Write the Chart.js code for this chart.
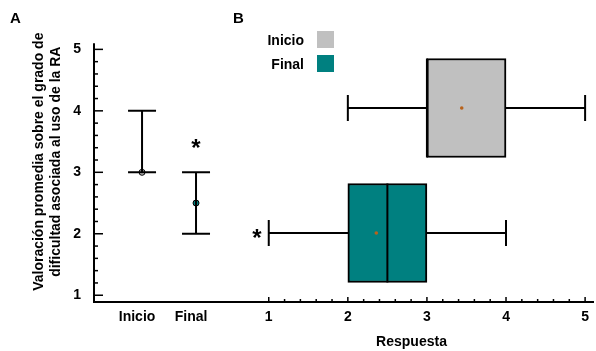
<!DOCTYPE html>
<html>
<head>
<meta charset="utf-8">
<script src="https://cdn.jsdelivr.net/npm/chart.js@4.4.0/dist/chart.umd.min.js"></script>
<style>
  html, body { margin: 0; padding: 0; background: #fff; }
  #wrap { position: relative; width: 596px; height: 351px; font-family: "Liberation Sans", Arial, sans-serif; font-weight: bold; color: #000; }
  canvas { position: absolute; top: 0; }
  #chartA { left: 0; }
  #chartB { left: 230px; }
  .tag { position: absolute; font-size: 15px; }
  .leg-text { position: absolute; right: 292px; font-size: 14px; line-height: 16px; }
  .leg-box { position: absolute; left: 317px; width: 17px; height: 17px; }
</style>
</head>
<body>
<div id="wrap">
  <canvas id="chartA" width="250" height="351"></canvas>
  <canvas id="chartB" width="366" height="351"></canvas>
  <div class="tag" style="left:10px;top:9px">A</div>
  <div class="tag" style="left:233px;top:9px">B</div>
  <div id="legend"></div>
</div>
<script>
const groups = ['Inicio', 'Final']
const groupColors = ['#c0c0c0', '#008080']

// panel A: mean with range
const meanScore = [3, 2.5]
const lowScore = [3, 2]
const highScore = [4, 3]
const starAbove = [null, 3.47]
const yTicks = [1, 2, 3, 4, 5]

// panel B: box plots
const boxMin = [2, 1]
const boxQ1 = [3, 2]
const boxMedian = [3, 2.5]
const boxQ3 = [4, 3]
const boxMax = [5, 4]
const boxMean = [3.44, 2.36]
const starLeft = [null, 0.85]
const xTicks = [1, 2, 3, 4, 5]

Chart.defaults.font.family = '"Liberation Sans", Arial, sans-serif'
Chart.defaults.font.weight = 'bold'
Chart.defaults.color = '#000'

// small inward ticks (major on whole numbers), plus the axis line when asked
const minorTicks = {
    id: 'minorTicks',
    afterDraw(chart, args, opts) {
        const scale = chart.scales[opts.axis]
        const area = chart.chartArea
        const ctx = chart.ctx
        ctx.save()
        ctx.strokeStyle = '#000'
        if (opts.lineTo !== undefined) {
            ctx.lineWidth = 2
            ctx.beginPath()
            ctx.moveTo(area.left, area.bottom)
            ctx.lineTo(area.left, scale.getPixelForValue(opts.lineTo))
            ctx.stroke()
        }
        ctx.lineWidth = 1.5
        for (let i = 0; i <= 20; i++) {
            const v = 1 + i * 0.2
            const len = i % 5 === 0 ? opts.major : opts.minor
            const p = scale.getPixelForValue(v)
            ctx.beginPath()
            if (scale.isHorizontal()) {
                ctx.moveTo(p, area.bottom)
                ctx.lineTo(p, area.bottom - len)
            } else {
                ctx.moveTo(area.left, p)
                ctx.lineTo(area.left + len, p)
            }
            ctx.stroke()
        }
        ctx.restore()
    }
}

const stars = {
    id: 'stars',
    afterDatasetsDraw(chart, args, opts) {
        const ctx = chart.ctx
        ctx.save()
        ctx.font = 'bold 24px "Liberation Sans", Arial, sans-serif'
        ctx.fillStyle = '#000'
        ctx.textAlign = 'center'
        ctx.textBaseline = 'alphabetic'
        const m = ctx.measureText('*')
        const shift = (m.actualBoundingBoxAscent - m.actualBoundingBoxDescent) / 2
        opts.items.forEach(s => {
            const x = chart.scales.x.getPixelForValue(s.x)
            const y = chart.scales.y.getPixelForValue(s.y)
            ctx.fillText('*', x, y + shift)
        })
        ctx.restore()
    }
}

const groupPos = groups.map((g, i) => i + 1)
const rowPos = groups.map((g, i) => groups.length - 1 - i)

new Chart(document.getElementById('chartA'), {
    type: 'scatter',
    data: {
        datasets: [
            ...groups.map((g, i) => ({
                showLine: true,
                data: [{ x: groupPos[i], y: lowScore[i] }, { x: groupPos[i], y: highScore[i] }],
                borderColor: '#000',
                borderWidth: 2,
                pointRadius: 0
            })),
            {
                data: groups.flatMap((g, i) => [{ x: groupPos[i], y: lowScore[i] }, { x: groupPos[i], y: highScore[i] }]),
                pointStyle: 'line',
                pointRadius: 14,
                pointBorderColor: '#000',
                pointBorderWidth: 2
            },
            {
                data: groups.map((g, i) => ({ x: groupPos[i], y: meanScore[i] })),
                pointStyle: 'circle',
                pointRadius: 3,
                pointBackgroundColor: groupColors,
                pointBorderColor: '#000',
                pointBorderWidth: 1
            }
        ]
    },
    options: {
        responsive: false,
        animation: false,
        events: [],
        layout: { autoPadding: false, padding: { left: 0, top: 18, right: 0, bottom: 0 } },
        scales: {
            x: {
                type: 'linear',
                min: 0.11,
                max: 3,
                afterBuildTicks: s => { s.ticks = groupPos.map(v => ({ value: v })) },
                afterFit: s => { s.height = 49 },
                ticks: { callback: v => groups[groupPos.indexOf(v)], font: { size: 14 }, padding: 7, labelOffset: -5 },
                grid: { display: false, drawTicks: false },
                border: { color: '#000', width: 2 }
            },
            y: {
                type: 'linear',
                min: 0.89,
                max: 5.455,
                afterBuildTicks: s => { s.ticks = yTicks.map(v => ({ value: v })) },
                afterFit: s => { s.width = 94 },
                ticks: { font: { size: 14 }, padding: 13 },
                grid: { display: false, drawTicks: false },
                border: { display: false },
                title: {
                    display: true,
                    text: ['Valoración promedia sobre el grado de', 'dificultad asociada al uso de la RA'],
                    font: { size: 14, lineHeight: 1.2 },
                    padding: { top: 31, bottom: 0 }
                }
            }
        },
        plugins: {
            legend: { display: false },
            tooltip: { enabled: false },
            minorTicks: { axis: 'y', major: 9, minor: 4, lineTo: 5.1 },
            stars: { items: groups.map((g, i) => ({ x: groupPos[i], y: starAbove[i] })).filter(s => s.y !== null) }
        }
    },
    plugins: [minorTicks, stars]
})

new Chart(document.getElementById('chartB'), {
    type: 'scatter',
    data: {
        datasets: [
            ...groups.map((g, i) => ({
                showLine: true,
                data: [{ x: boxMin[i], y: rowPos[i] }, { x: boxMax[i], y: rowPos[i] }],
                borderColor: '#000',
                borderWidth: 2,
                pointRadius: 0,
                order: 3
            })),
            {
                type: 'bar',
                indexAxis: 'y',
                label: 'box',
                data: groups.map((g, i) => ({ x: [boxQ1[i], boxQ3[i]], y: rowPos[i] })),
                backgroundColor: groupColors,
                borderColor: '#000',
                borderWidth: 2,
                borderSkipped: false,
                barThickness: 99,
                order: 2
            },
            {
                data: groups.flatMap((g, i) => [{ x: boxMin[i], y: rowPos[i] }, { x: boxMax[i], y: rowPos[i] }]),
                pointStyle: 'line',
                pointRotation: 90,
                pointRadius: 13,
                pointBorderColor: '#000',
                pointBorderWidth: 2,
                order: 1
            },
            {
                data: groups.map((g, i) => ({ x: boxMedian[i], y: rowPos[i] })),
                pointStyle: 'line',
                pointRotation: 90,
                pointRadius: 49.5,
                pointBorderColor: '#000',
                pointBorderWidth: 2,
                order: 1
            },
            {
                data: groups.map((g, i) => ({ x: boxMean[i], y: rowPos[i] })),
                pointStyle: 'circle',
                pointRadius: 1.8,
                pointBackgroundColor: '#b8621b',
                pointBorderWidth: 0,
                order: 0
            }
        ]
    },
    options: {
        responsive: false,
        animation: false,
        events: [],
        layout: { autoPadding: false, padding: 0 },
        scales: {
            x: {
                type: 'linear',
                offset: false,
                min: 0.51,
                max: 5.1,
                afterBuildTicks: s => { s.ticks = xTicks.map(v => ({ value: v })) },
                afterFit: s => { s.height = 49 },
                ticks: { font: { size: 14 }, padding: 7 },
                grid: { display: false, drawTicks: false },
                border: { color: '#000', width: 2 },
                title: { display: true, text: 'Respuesta', font: { size: 14 }, padding: { top: 0, bottom: 0 } }
            },
            y: {
                type: 'linear',
                offset: false,
                display: false,
                min: -0.552,
                max: 1.864
            }
        },
        plugins: {
            legend: { display: false },
            tooltip: { enabled: false },
            minorTicks: { axis: 'x', major: 5, minor: 3 },
            stars: { items: groups.map((g, i) => ({ x: starLeft[i], y: rowPos[i] })).filter(s => s.x !== null) }
        }
    },
    plugins: [minorTicks, stars]
})

// legend: label text on the left, colour swatch on the right
const legend = document.getElementById('legend')
groups.forEach((g, i) => {
    const top = 31 + i * 24
    const t = document.createElement('div')
    t.className = 'leg-text'
    t.style.top = (top + 1) + 'px'
    t.textContent = g
    const b = document.createElement('div')
    b.className = 'leg-box'
    b.style.top = top + 'px'
    b.style.background = groupColors[i]
    legend.appendChild(t)
    legend.appendChild(b)
})
</script>
</body>
</html>
